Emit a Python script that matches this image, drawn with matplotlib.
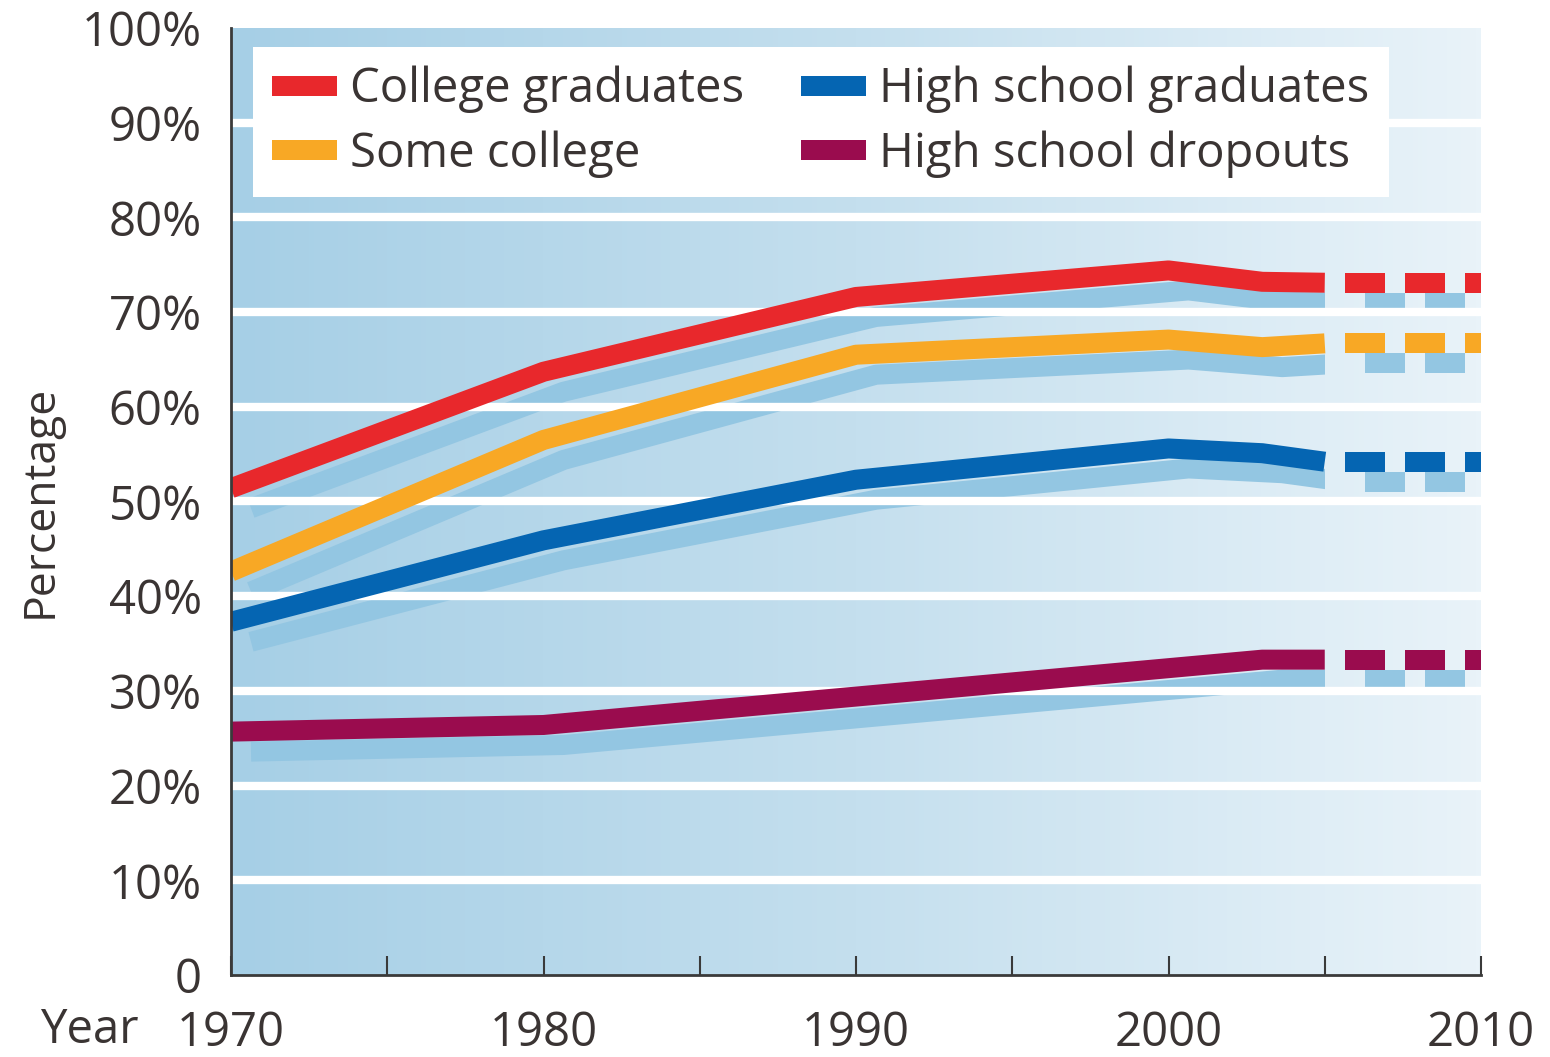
import matplotlib
matplotlib.use("Agg")
import matplotlib.pyplot as plt
import matplotlib.transforms as mtransforms
from matplotlib.colors import LinearSegmentedColormap
from matplotlib.lines import Line2D
from matplotlib.patches import Rectangle
import numpy as np

plt.rcParams['font.family'] = ['Open Sans', 'DejaVu Sans']

# Data (solid part 1970-2005, dashed 2005-2010)
years = [1970, 1980, 1990, 2000, 2003, 2005]
college = [51.4, 63.7, 71.6, 74.4, 73.2, 73.1]
some_college = [42.6, 56.5, 65.5, 67.1, 66.3, 66.7]
hs_grad = [37.3, 45.9, 52.3, 55.6, 55.1, 54.2]
dropouts = [25.7, 26.4, 29.4, 32.4, 33.3, 33.3]

labels = ["College graduates", "Some college", "High school graduates", "High school dropouts"]
colors = ["#e8282c", "#f8a825", "#0565b2", "#9a0c4e"]
series = [college, some_college, hs_grad, dropouts]

x_ticks = list(range(1970, 2011, 5))
x_labels = ["1970", "", "1980", "", "1990", "", "2000", "", "2010"]
y_ticks = list(range(0, 101, 10))
y_labels = ["0"] + [f"{v}%" for v in y_ticks[1:]]

text_col = "#3a3433"
shadow_col = "#93c6e2"
lw = 14.4

fig = plt.figure(figsize=(15.5, 10.57), dpi=100)
ax = fig.add_axes([231 / 1550, 82 / 1057, 1250 / 1550, 947 / 1057])
ax.set_xlim(1970, 2010)
ax.set_ylim(0, 100)

# gradient background
cmap = LinearSegmentedColormap.from_list("bg", ["#a6cfe6", "#c4dfee", "#e9f3f9"])
grad = np.linspace(0, 1, 256).reshape(1, -1)
ax.imshow(grad, extent=[1970, 2010, 0, 100], aspect="auto", cmap=cmap, zorder=0)

# white grid lines
for v in y_ticks[1:-1]:
    ax.axhline(v, color="white", lw=6, zorder=2)

shift = mtransforms.offset_copy(ax.transData, fig=fig, x=20, y=-20, units="dots")
clip = Rectangle((1970, 0), 35, 100, transform=ax.transData)

for vals, c in zip(series, colors):
    # shadows
    s, = ax.plot(years, vals, color=shadow_col, lw=lw, solid_capstyle="butt",
                 solid_joinstyle="round", transform=shift, zorder=1)
    s.set_clip_path(clip)
    ax.plot([2005, 2010], [vals[-1], vals[-1]], color=shadow_col, lw=lw,
            linestyle=(2, (2, 1)), dash_capstyle="butt", transform=shift, zorder=1)
    # lines
    ax.plot(years, vals, color=c, lw=lw, solid_capstyle="butt",
            solid_joinstyle="round", zorder=3)
    ax.plot([2005, 2010], [vals[-1], vals[-1]], color=c, lw=lw,
            linestyle=(2, (2, 1)), dash_capstyle="butt", zorder=3)

# axes styling
for side in ["top", "right"]:
    ax.spines[side].set_visible(False)
for side in ["left", "bottom"]:
    ax.spines[side].set_color("#3a3a3a")
    ax.spines[side].set_linewidth(2)
    ax.spines[side].set_zorder(5)

ax.set_xticks(x_ticks)
ax.set_xticklabels(x_labels)
ax.set_yticks(y_ticks)
ax.set_yticklabels(y_labels)
ax.tick_params(axis="x", direction="in", length=14, width=1.5, color="#3a3a3a",
               labelsize=34, labelcolor=text_col, pad=25)
ax.tick_params(axis="y", length=0, labelsize=34, labelcolor=text_col, pad=21)

ax.set_ylabel("Percentage", fontsize=32, color=text_col, labelpad=14)
fig.text(40 / 1550, 1 - 1030 / 1057, "Year", fontsize=34, color=text_col,
         ha="left", va="center")

handles = [Line2D([], [], color=c, lw=lw, solid_capstyle="butt") for c in colors]
leg = ax.legend(handles, labels, ncol=2, loc="upper left",
                bbox_to_anchor=(0.0176, 0.98), fontsize=34, frameon=True,
                fancybox=False, framealpha=1, edgecolor="white",
                handlelength=1.38, handletextpad=0.28, columnspacing=1.2,
                borderpad=0.4, labelspacing=0.36, borderaxespad=0)
leg.get_frame().set_linewidth(0)
for t in leg.get_texts():
    t.set_color(text_col)
leg.set_zorder(6)

fig.savefig("out.png", dpi=100)
